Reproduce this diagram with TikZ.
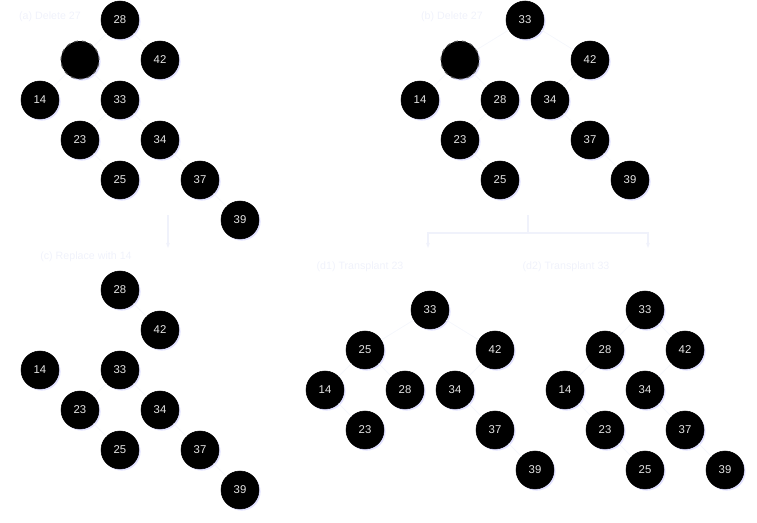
\documentclass[tikz,border=0pt]{standalone}
\usepackage{fontspec}
\setmainfont{Liberation Sans}
\usetikzlibrary{shadows,arrows.meta}
\definecolor{faint}{RGB}{240,242,251}
\definecolor{faintedge}{RGB}{245,247,252}
\definecolor{numtxt}{RGB}{228,228,228}
\tikzset{
  nd/.style={circle,fill=black,draw=black,minimum size=28.5pt,inner sep=0pt,
    text=numtxt,font=\fontsize{8.5}{10}\selectfont,
    drop shadow={shadow xshift=1.2pt,shadow yshift=-1.2pt,fill=blue!35!white,opacity=0.35}},
  delnd/.style={nd,dashed,draw=black!70,line width=0.8pt},
  lbl/.style={text=faint,font=\fontsize{8}{9}\selectfont,inner sep=1pt},
  edge/.style={draw=faintedge,line width=0.6pt},
  conn/.style={draw=faint,line width=0.8pt,-{Stealth[length=4pt]}},
  connl/.style={draw=faint,line width=0.8pt}
}
\begin{document}
\begin{tikzpicture}[x=0.75pt,y=-0.75pt]
\useasboundingbox (0,0) rectangle (757,523);
% ---------- faint edges drawn first (behind nodes)
\coordinate (pa28) at (120,20);  \coordinate (paX) at (80,60);   \coordinate (pa42) at (160,60);
% ---------- Tree (a)
\node[lbl] (la) at (50,17) {(a) Delete 27};
\node[nd] (a28) at (120,20) {28};
\node[delnd] (aX) at (80,60) {};
\node[nd] (a42) at (160,60) {42};
\node[nd] (a14) at (40,100) {14};
\node[nd] (a33) at (120,100) {33};
\node[nd] (a23) at (80,140) {23};
\node[nd] (a34) at (160,140) {34};
\node[nd] (a25) at (120,180) {25};
\node[nd] (a37) at (200,180) {37};
\node[nd] (a39) at (240,220) {39};
% ---------- Tree (b)
\node[lbl] (lb) at (452,17) {(b) Delete 27};
\node[nd] (b33) at (525,20) {33};
\node[delnd] (bX) at (460,60) {};
\node[nd] (b42) at (590,60) {42};
\node[nd] (b14) at (420,100) {14};
\node[nd] (b28) at (500,100) {28};
\node[nd] (b34) at (550,100) {34};
\node[nd] (b23) at (460,140) {23};
\node[nd] (b37) at (590,140) {37};
\node[nd] (b25) at (500,180) {25};
\node[nd] (b39) at (630,180) {39};
% ---------- Tree (c)
\node[lbl] (lc) at (86,257) {(c) Replace with 14};
\node[nd] (c28) at (120,290) {28};
\node[nd] (c42) at (160,330) {42};
\node[nd] (c14) at (40,370) {14};
\node[nd] (c33) at (120,370) {33};
\node[nd] (c23) at (80,410) {23};
\node[nd] (c34) at (160,410) {34};
\node[nd] (c25) at (120,450) {25};
\node[nd] (c37) at (200,450) {37};
\node[nd] (c39) at (240,490) {39};
% ---------- Tree (d1)
\node[lbl] (ld1) at (360,267) {(d1) Transplant 23};
\node[nd] (d33) at (430,310) {33};
\node[nd] (d25) at (365,350) {25};
\node[nd] (d42) at (495,350) {42};
\node[nd] (d14) at (325,390) {14};
\node[nd] (d28) at (405,390) {28};
\node[nd] (d34) at (455,390) {34};
\node[nd] (d23) at (365,430) {23};
\node[nd] (d37) at (495,430) {37};
\node[nd] (d39) at (535,470) {39};
% ---------- Tree (d2)
\node[lbl] (ld2) at (566,267) {(d2) Transplant 33};
\node[nd] (e33) at (645,310) {33};
\node[nd] (e28) at (605,350) {28};
\node[nd] (e42) at (685,350) {42};
\node[nd] (e14) at (565,390) {14};
\node[nd] (e34) at (645,390) {34};
\node[nd] (e23) at (605,430) {23};
\node[nd] (e37) at (685,430) {37};
\node[nd] (e25) at (645,470) {25};
\node[nd] (e39) at (725,470) {39};
% ---------- faint edges
\begin{scope}[edge]
\draw (a28) -- (aX); \draw (a28) -- (a42); \draw (aX) -- (a14); \draw (aX) -- (a33);
\draw (a33) -- (a23); \draw (a33) -- (a34); \draw (a23) -- (a25); \draw (a34) -- (a37); \draw (a37) -- (a39);
\draw (b33) -- (bX); \draw (b33) -- (b42); \draw (bX) -- (b14); \draw (bX) -- (b28);
\draw (b42) -- (b34); \draw (b28) -- (b23); \draw (b23) -- (b25); \draw (b34) -- (b37); \draw (b37) -- (b39);
\draw (c28) -- (c42); \draw (c33) -- (c23); \draw (c33) -- (c34); \draw (c23) -- (c25); \draw (c34) -- (c37); \draw (c37) -- (c39);
\draw (d33) -- (d25); \draw (d33) -- (d42); \draw (d25) -- (d14); \draw (d25) -- (d28);
\draw (d42) -- (d34); \draw (d14) -- (d23); \draw (d34) -- (d37); \draw (d37) -- (d39);
\draw (e33) -- (e28); \draw (e33) -- (e42); \draw (e28) -- (e14); \draw (e42) -- (e34);
\draw (e14) -- (e23); \draw (e23) -- (e25); \draw (e34) -- (e37); \draw (e37) -- (e39);
\end{scope}
% ---------- connectors
\coordinate (s1) at (168,215);
\coordinate (t1) at (168,248);
\draw[conn] (s1) -- (t1);
\coordinate (s2) at (528,215);
\coordinate (m2) at (528,233);
\coordinate (j1) at (428,233);
\coordinate (j2) at (648,233);
\coordinate (t2) at (428,248);
\coordinate (t3) at (648,248);
\draw[connl] (s2) -- (m2);
\draw[conn] (m2) -- (j1) -- (t2);
\draw[conn] (m2) -- (j2) -- (t3);
\end{tikzpicture}
\end{document}
